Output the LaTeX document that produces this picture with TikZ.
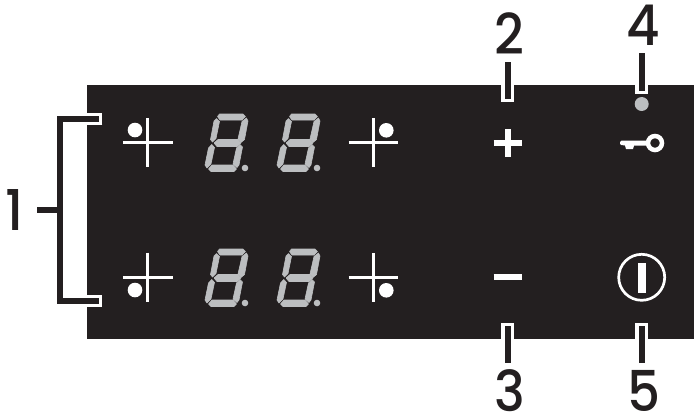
\documentclass[tikz,border=0pt]{standalone}
\usepackage{fontspec}
\setmainfont{Poppins Medium}[FakeStretch=0.92]
\usetikzlibrary{positioning, calc}
\definecolor{c1}{HTML}{231F20}
\definecolor{c2}{HTML}{BCBEC0}

\begin{document}
\begin{tikzpicture}[
    x=0.02cm, y=-0.02cm,
    every node/.style={font=\rmfamily},
    lab/.style={font=\rmfamily\fontsize{32}{32}\selectfont, text=c1, inner sep=0pt,
        minimum width=0.96cm, minimum height=1.12cm},
    leader/.style={c1, line width=6.4*0.02cm,
        preaction={draw=white, line width=12.6*0.02cm, shorten <=-3.4*0.02cm, shorten >=-3.4*0.02cm}},
    hair/.style={white, line width=2.7*0.02cm},
    seg/.style={fill=c2, draw=c2, line width=0.6*0.02cm, line join=round},
]
\def\Digit#1#2{
    \begin{scope}[shift={(#1,#2)}]
    \path[seg] (12.5,2.5) -- (14.5,0) -- (38,0) -- (40.5,2.5) -- (37,6) -- (15,6) -- cycle;
    \path[seg] (11.5,4.5) -- (14.5,7.5) -- (11,24.5) -- (7.5,28) -- (5.5,25.5) -- (9,7) -- cycle;
    \path[seg] (41.5,4) -- (43,7) -- (39.5,25.5) -- (36,28.5) -- (33,25) -- (37,7.5) -- cycle;
    \path[seg] (9,29) -- (13,25.5) -- (33,25.5) -- (36,29) -- (32,32.5) -- (12,32.5) -- cycle;
    \path[seg] (6.8,30.5) -- (9.5,33.5) -- (6,50) -- (2,54) -- (0,51) -- (3.5,34) -- cycle;
    \path[seg] (35,30.5) -- (37.5,33) -- (34,51) -- (32,53.5) -- (28,50) -- (31.5,34) -- cycle;
    \path[seg] (3.5,55) -- (7,51) -- (28,51) -- (31.5,55) -- (29,57.5) -- (6,57.5) -- cycle;
    \fill[c2] (40,54) circle (3.3);
    \end{scope}
}
\def\Cross#1#2#3#4{
    \draw[hair] (#1-24.8,#2) -- (#1+24.8,#2);
    \draw[hair] (#1,#2-24.6) -- (#1,#2+24.6);
    \fill[white] (#3,#4) circle (7.3);
}
\useasboundingbox (0,0) rectangle (694,414);

% the panel
\fill[c1] (87,85) rectangle (694,339);

% the zone keys
\Cross{147.7}{142.7}{135}{130}
\Cross{147.7}{277.3}{135}{290}
\Cross{373.3}{142.7}{386.3}{130.3}
\Cross{373.3}{277.7}{386.3}{290.3}

% the displays
\foreach \px in {205, 277}{
    \foreach \py in {114, 249}{
        \Digit{\px}{\py}
    }
}

% plus and minus
\draw[white, line width=6*0.02cm] (493.5,143) -- (521.8,143);
\draw[white, line width=6*0.02cm] (507.7,129) -- (507.7,157);
\draw[white, line width=5.5*0.02cm] (493.5,277) -- (521.8,277);

% lamp, key and power
\fill[c2] (641.7,104) circle (7);
\draw[white, line width=4.5*0.02cm] (655,143) circle (7);
\fill[white] (620,142) -- (621.5,140.7) -- (648,140.7) -- (648,145.7) -- (634,145.7)
    -- (633,149) -- (626,149) -- (625,145.5) -- (621.5,145) -- (620,144) -- cycle;
\draw[white, line width=2.7*0.02cm] (641.7,277.3) circle (23);
\fill[white] (638.2,262.7) rectangle (645.5,292.7);

% the numbers
\node[lab] (lab1) at (13,210) {\hspace*{2pt}1};
\node[lab] (lab2) at (507.7,34) {\hspace*{2pt}2};
\node[lab] (lab3) at (507.7,391) {\hspace*{2pt}3};
\node[lab] (lab4) at (641.7,25) {\hspace*{1.5pt}4};
\node[lab] (lab5) at (641.7,391) {\hspace*{3pt}5};

% the leaders
\coordinate (brk1) at (99,119);
\coordinate (brk2) at (60,119);
\coordinate (brk3) at (60,301);
\coordinate (brk4) at (99,301);
\coordinate (brk5) at (60,210);
\coordinate (tip2) at (507.7,99);
\coordinate (tip3) at (507.7,326);
\coordinate (tip4) at (641.7,91);
\coordinate (tip5) at (641.7,326);
\draw[leader] (brk1) -- (brk2) -- (brk3) -- (brk4);
\draw[c1, line width=6*0.02cm] (lab1) -- (brk5);
\draw[leader] (lab2) -- (tip2);
\draw[leader] (lab3) -- (tip3);
\draw[leader] (lab4) -- (tip4);
\draw[leader] (lab5) -- (tip5);
\end{tikzpicture}
\end{document}
